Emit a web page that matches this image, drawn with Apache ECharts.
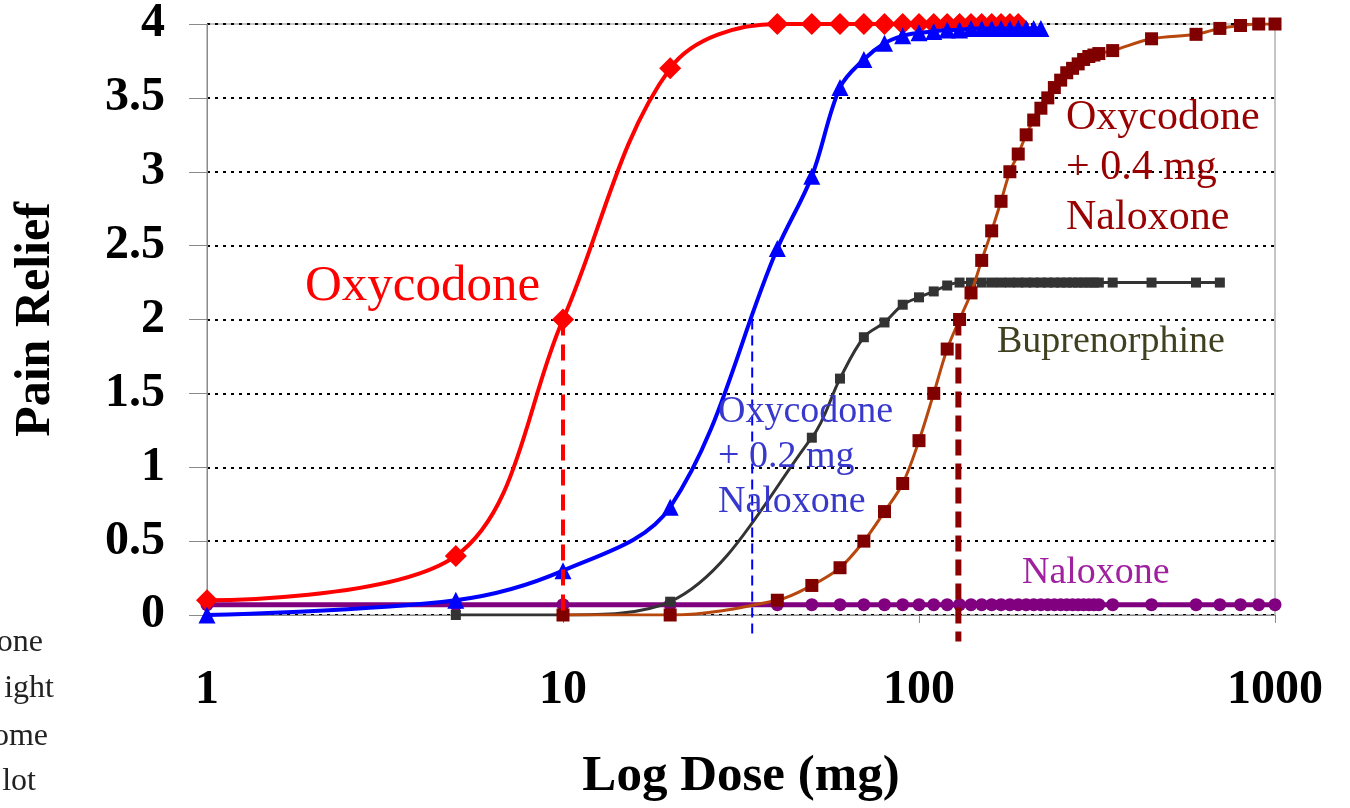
<!DOCTYPE html>
<html>
<head>
<meta charset="utf-8">
<script src="https://cdn.jsdelivr.net/npm/echarts@6/dist/echarts.min.js"></script>
<style>html,body{margin:0;padding:0;background:#fff}#c{width:1350px;height:808px}</style>
</head>
<body>
<div id="c"></div>
<script>
// ---- data ----
const xTickLabels = ['1', '10', '100', '1000'];
const yTickLabels = ['0', '0.5', '1', '1.5', '2', '2.5', '3', '3.5', '4'];

const oxyDose = [1, 5, 10, 20, 40, 50, 60, 70, 80, 90, 100, 110, 120, 130, 140, 150, 160, 170, 180, 190];
const oxyRelief = [0.1, 0.4, 2.0, 3.7, 4, 4, 4, 4, 4, 4, 4, 4, 4, 4, 4, 4, 4, 4, 4, 4];

const oxy02Dose = [1, 5, 10, 20, 40, 50, 60, 70, 80, 90, 100, 110, 120, 130, 140, 150, 160, 170, 180, 190, 200, 210, 220];
const oxy02Relief = [0, 0.1, 0.3, 0.73, 2.48, 2.97, 3.57, 3.76, 3.87, 3.92, 3.94, 3.95, 3.96, 3.96, 3.97, 3.97, 3.97, 3.97, 3.97, 3.97, 3.97, 3.97, 3.97];

const bupDose = [5, 10, 20, 50, 60, 70, 80, 90, 100, 110, 120, 130, 140, 150, 160, 170, 180, 190, 200, 210, 220, 230, 240, 250, 260, 270, 280, 290, 300, 310, 320, 350, 450, 600, 700];
const bupRelief = [0, 0, 0.09, 1.2, 1.6, 1.88, 1.98, 2.1, 2.15, 2.19, 2.23, 2.25, 2.25, 2.25, 2.25, 2.25, 2.25, 2.25, 2.25, 2.25, 2.25, 2.25, 2.25, 2.25, 2.25, 2.25, 2.25, 2.25, 2.25, 2.25, 2.25, 2.25, 2.25, 2.25, 2.25];

const oxy04Dose = [10, 20, 40, 50, 60, 70, 80, 90, 100, 110, 120, 130, 140, 150, 160, 170, 180, 190, 200, 210, 220, 230, 240, 250, 260, 270, 280, 290, 300, 310, 320, 350, 450, 600, 700, 800, 900, 1000];
const oxy04Relief = [0, 0, 0.1, 0.2, 0.32, 0.5, 0.7, 0.89, 1.18, 1.5, 1.8, 2.0, 2.18, 2.4, 2.6, 2.8, 3.0, 3.12, 3.25, 3.35, 3.43, 3.5, 3.57, 3.62, 3.67, 3.7, 3.73, 3.76, 3.78, 3.79, 3.8, 3.82, 3.9, 3.93, 3.97, 3.99, 4, 4];

const naloxDose = [1, 5, 10, 20, 40, 50, 60, 70, 80, 90, 100, 110, 120, 130, 140, 150, 160, 170, 180, 190, 200, 210, 220, 230, 240, 250, 260, 270, 280, 290, 300, 310, 320, 350, 450, 600, 700, 800, 900, 1000];
const naloxRelief = [0.07, 0.07, 0.07, 0.07, 0.07, 0.07, 0.07, 0.07, 0.07, 0.07, 0.07, 0.07, 0.07, 0.07, 0.07, 0.07, 0.07, 0.07, 0.07, 0.07, 0.07, 0.07, 0.07, 0.07, 0.07, 0.07, 0.07, 0.07, 0.07, 0.07, 0.07, 0.07, 0.07, 0.07, 0.07, 0.07, 0.07, 0.07, 0.07, 0.07];

// ED50 drop lines: [dose, relief] end points
const oxyDrop = [[10, 2], [10, 0]];
const oxy02Drop = [[34, 2], [34, -0.14]];
const oxy04Drop = [[129, 2], [129, -0.18]];

const leftFragments = ['one', 'ight', 'ome', 'lot'];

// ---- chart ----
const pairs = (xs, ys) => xs.map((x, i) => [x, ys[i]]);
const SERIF = "'Liberation Serif', 'Times New Roman', serif";

const chart = echarts.init(document.getElementById('c'), null, {renderer: 'canvas'});

function curve(name, xs, ys, color, lineColor, symbol, size, width, z) {
  return {
    name, type: 'line', data: pairs(xs, ys), smooth: 0.35,
    symbol, symbolSize: size, z,
    lineStyle: {color: lineColor, width},
    itemStyle: {color, borderWidth: 0},
    emphasis: {disabled: true}, animation: false
  };
}
function drop(data, color, width, dash, z) {
  return {
    type: 'line', data, clip: false, symbol: 'none', z,
    lineStyle: {color, width, type: dash},
    emphasis: {disabled: true}, animation: false, silent: true
  };
}

const fragGraphics = leftFragments.map((t, i) => ({
  type: 'text', x: [43, 54, 48, 36][i], y: [643, 689, 737, 782][i],
  style: {text: t, font: "32px " + SERIF, fill: '#222', align: 'right', verticalAlign: 'middle'}
}));

chart.setOption({
  backgroundColor: '#fff',
  animation: false,
  grid: {left: 207, right: 75, top: 24, bottom: 193, outerBoundsMode: 'none', containLabel: false,
         show: true, borderColor: '#8a8a8a', borderWidth: 1, backgroundColor: 'transparent'},
  xAxis: {
    type: 'log', logBase: 10, min: 1, max: 1000,
    name: 'Log Dose (mg)', nameLocation: 'middle', nameGap: 136,
    nameTextStyle: {fontFamily: SERIF, fontSize: 51, fontWeight: 'bold', color: '#000'},
    axisLine: {lineStyle: {color: '#8a8a8a', width: 1}},
    axisTick: {length: 8, lineStyle: {color: '#8a8a8a'}},
    minorTick: {show: false},
    splitLine: {show: false},
    axisLabel: {
      margin: 52, fontFamily: SERIF, fontSize: 48, fontWeight: 'bold', color: '#000',
      formatter: v => { const i = Math.round(Math.log10(v)); return xTickLabels[i] !== undefined ? xTickLabels[i] : ''; }
    }
  },
  yAxis: {
    type: 'value', min: 0, max: 4, interval: 0.5,
    name: 'Pain Relief', nameLocation: 'middle', nameGap: 146,
    nameTextStyle: {fontFamily: SERIF, fontSize: 50, fontWeight: 'bold', color: '#000'},
    axisLine: {show: true, lineStyle: {color: '#8a8a8a', width: 1}},
    axisTick: {show: true, length: 18, lineStyle: {color: '#8a8a8a'}},
    splitLine: {show: true, lineStyle: {color: '#000', width: 2, type: [3, 5]}},
    axisLabel: {
      margin: 42, fontFamily: SERIF, fontSize: 48, fontWeight: 'bold', color: '#000',
      formatter: v => yTickLabels[Math.round(v * 2)]
    }
  },
  series: [
    curve('Naloxone', naloxDose, naloxRelief, '#800080', '#800080', 'circle', 13, 5, 2),
    curve('Buprenorphine', bupDose, bupRelief, '#333333', '#333333', 'rect', 10, 3, 3),
    curve('Oxycodone + 0.4 mg Naloxone', oxy04Dose, oxy04Relief, '#800000', '#B8470E', 'rect', 13, 3, 4),
    curve('Oxycodone', oxyDose, oxyRelief, '#FF0000', '#FF0000', 'diamond', 22, 4, 5),
    curve('Oxycodone + 0.2 mg Naloxone', oxy02Dose, oxy02Relief, '#0000FF', '#0000FF', 'triangle', 17, 4, 6),
    drop(oxyDrop, '#FF0000', 4, [16, 9], 7),
    drop(oxy02Drop, '#0000FF', 2, [10, 6], 7),
    drop(oxy04Drop, '#8B0000', 6, [16, 8], 7)
  ],
  graphic: [
    {type: 'text', x: 305, y: 287, z: 10, style: {text: 'Oxycodone', font: "51px " + SERIF, fill: '#FF0000', align: 'left', verticalAlign: 'middle'}},
    {type: 'text', x: 1066, y: 168, z: 10, style: {text: 'Oxycodone\n+ 0.4 mg\nNaloxone', font: "42px " + SERIF, lineHeight: 50, fill: '#990000', align: 'left', verticalAlign: 'middle'}},
    {type: 'text', x: 718, y: 457, z: 10, style: {text: 'Oxycodone\n+ 0.2 mg\nNaloxone', font: "38px " + SERIF, lineHeight: 45, fill: '#3838CC', align: 'left', verticalAlign: 'middle'}},
    {type: 'text', x: 997, y: 342, z: 10, style: {text: 'Buprenorphine', font: "38px " + SERIF, fill: '#404020', align: 'left', verticalAlign: 'middle'}},
    {type: 'text', x: 1022, y: 573, z: 10, style: {text: 'Naloxone', font: "38px " + SERIF, fill: '#A020A0', align: 'left', verticalAlign: 'middle'}}
  ].concat(fragGraphics)
});
</script>
</body>
</html>
